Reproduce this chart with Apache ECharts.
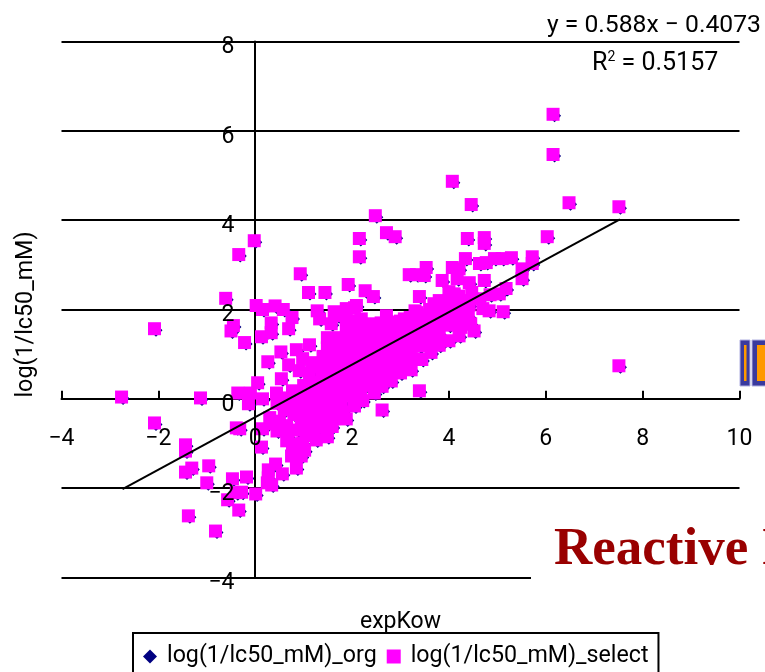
<!DOCTYPE html>
<html><head><meta charset="utf-8">
<style>html,body{margin:0;padding:0;background:#fff;overflow:hidden}#c{width:765px;height:672px}</style>
<script src="https://cdn.jsdelivr.net/npm/echarts@6/dist/echarts.min.js"></script>
</head><body><div id="c"></div>
<script>
const xTicks = {min:-4,max:10,step:2};
const yTicks = {min:-4,max:8,step:2};
const upperOutliers = [[6.15,6.37],[6.15,5.47],[4.07,4.87],[4.46,4.35],[6.48,4.39],[7.51,4.30],[2.48,4.10],[2.15,3.59],[2.71,3.72],[2.89,3.63],[2.15,3.18],[-0.02,3.54],[-0.34,3.23],[0.93,2.80],[-0.61,2.25],[-2.08,1.57],[1.10,2.38],[1.44,2.38],[1.92,2.56],[2.27,2.42],[2.44,2.29],[7.51,0.74],[3.39,0.18],[2.62,-0.25]];
const leftUpper = [[0.02,2.09],[0.15,2.0],[0.41,2.08],[0.58,2.0],[0.76,1.82],[-0.45,1.64],[-0.5,1.52],[0.33,1.7],[0.33,1.48],[0.69,1.57],[1.28,1.97],[1.33,1.79],[-0.22,1.26],[0.13,1.39],[0.26,0.83],[0.53,1.05],[0.85,1.10],[1.12,1.21],[0.54,0.45],[0.69,0.76],[0.05,0.36],[-0.1,0.13],[-0.36,0.13],[-1.13,0.02],[-2.76,0.04],[-0.14,-0.11],[0.15,0],[0.44,0.13],[0.77,0.18],[0.98,0.9],[1.18,0.81],[1.39,0.7],[0.91,0.63],[1.12,0.58],[1.49,1.37],[1.49,1.14],[1.74,1.37],[1.88,1.59],[1.70,1.86],[1.88,2.02],[2.05,2.04],[1.57,1.68],[1.74,1.14],[1.74,1.91],[2.09,2.09],[2.19,1.79],[2.71,1.86],[3.33,1.93],[3.08,1.79],[1.95,1.75],[1.63,1.95]];
const lowerLeft = [[-2.08,-0.54],[-1.44,-1.03],[-1.44,-1.17],[-1.31,-1.55],[-1.44,-1.64],[-0.96,-1.5],[-1.0,-1.88],[-0.47,-1.79],[-0.18,-1.75],[-0.28,-2.09],[-0.39,-2.1],[-0.57,-2.26],[-0.34,-2.49],[0.01,-2.13],[-1.38,-2.62],[-0.82,-2.96],[-0.39,-0.65],[-0.32,-0.67],[0.13,-1.08],[0.42,-1.46],[0.27,-1.59],[0.56,-1.68],[0.25,-1.88],[0.34,-1.93],[0.27,-1.77],[0.85,-1.55],[0.95,-1.28],[0.75,-1.28],[0.77,-1.01],[0.98,-0.99],[0.65,-0.94],[0.15,-0.67],[0.36,-0.56],[0.45,-0.1],[0.6,-0.25],[0.3,-0.42],[0.5,-0.5],[0.65,-0.6],[0.8,-0.35],[0.85,-0.1],[0.7,0.02],[0.45,-0.72],[0.68,-0.85],[0.88,-0.7],[0.95,-0.5],[1.05,-0.3],[1.1,-0.05],[0.95,0.1]];
const massLow = [[1.0,0.3],[1.02,-1.15],[1.05,-0.82],[1.03,-0.62],[1.2,0.72],[1.22,0.35],[1.2,0.12],[1.24,-0.12],[1.18,-0.35],[1.22,-0.58],[1.2,-0.76],[1.26,-0.92],[1.4,0.95],[1.38,0.5],[1.42,0.28],[1.4,0.05],[1.36,-0.2],[1.42,-0.42],[1.4,-0.64],[1.49,-0.85],[1.6,1.2],[1.62,0.92],[1.58,0.68],[1.6,0.45],[1.64,0.22],[1.6,0],[1.58,-0.22],[1.62,-0.45],[1.59,-0.62],[1.8,1.3],[1.82,1.05],[1.78,0.82],[1.8,0.6],[1.84,0.38],[1.8,0.15],[1.78,-0.08],[1.82,-0.3],[1.88,-0.45],[2.0,1.5],[2.02,1.25],[1.98,1.0],[2.0,0.78],[2.04,0.55],[2.0,0.3],[1.98,0.08],[2.05,-0.16],[2.2,1.58],[2.22,1.34],[2.18,1.1],[2.2,0.88],[2.24,0.66],[2.2,0.42],[2.18,0.2],[2.22,-0.04],[2.4,1.68],[2.42,1.44],[2.38,1.2],[2.4,0.98],[2.44,0.75],[2.4,0.5],[2.38,0.3],[2.46,0.13]];
const massHigh = [[2.6,1.7],[2.62,1.46],[2.58,1.22],[2.6,1.0],[2.64,0.78],[2.6,0.55],[2.62,0.28],[2.8,1.72],[2.82,1.48],[2.78,1.25],[2.8,1.02],[2.84,0.8],[2.81,0.4],[2.8,0.6],[3.0,1.74],[3.02,1.5],[2.98,1.26],[3.0,1.05],[3.04,0.82],[3.0,0.58],[3.2,1.82],[3.22,1.58],[3.18,1.34],[3.2,1.12],[3.24,0.9],[3.22,0.65],[3.4,1.88],[3.42,1.64],[3.38,1.4],[3.4,1.18],[3.44,0.88],[3.6,2.0],[3.62,1.75],[3.58,1.5],[3.6,1.25],[3.63,1.04],[3.8,2.2],[3.82,1.95],[3.78,1.7],[3.8,1.45],[3.8,1.2],[4.0,2.4],[4.02,2.15],[3.98,1.9],[4.0,1.65],[4.0,1.3],[4.2,2.3],[4.22,2.05],[4.18,1.8],[4.21,1.41],[4.25,1.6],[4.42,2.1],[4.4,1.85],[4.52,1.52],[4.45,1.68]];
const upperRight = [[4.38,3.59],[4.73,3.61],[4.73,3.48],[6.03,3.63],[5.72,3.18],[5.72,3.03],[5.51,2.91],[5.51,2.69],[5.29,3.16],[5.1,3.14],[4.94,3.14],[4.77,3.05],[4.63,3.03],[4.34,3.14],[4.21,2.91],[4.07,2.94],[3.53,2.94],[3.49,2.76],[3.18,2.78],[3.33,2.78],[3.86,2.65],[3.39,2.29],[3.69,2.13],[3.3,1.97],[4.73,2.65],[4.42,2.6],[4.17,2.69],[4.11,2.35],[4.47,2.38],[4.25,2.2],[4.63,2.24],[5.18,2.47],[5.04,2.35],[4.85,2.33],[4.83,1.97],[5.12,1.95],[4.7,2.02]];
const trendPoints = [[-2.74,-2.02],[7.53,4.02]];
const selectPoints = [].concat(upperOutliers,leftUpper,lowerLeft,massLow,massHigh,upperRight);
const orgPoints = selectPoints;
const FONT='Roboto';
const chart = echarts.init(document.getElementById('c'));
const ln={color:'#000',width:2};
const hiddenLine={show:false,onZero:false};
chart.setOption({
 animation:false,backgroundColor:'#fff',
 grid:{left:61.5,right:25.5,top:41.5,bottom:94.5,containLabel:false,outerBoundsMode:'none'},
 xAxis:[
  {type:'value',min:xTicks.min,max:xTicks.max,interval:xTicks.step,z:1,
   name:'expKow',nameLocation:'middle',nameGap:33,nameTextStyle:{fontFamily:FONT,fontSize:23,color:'#000'},
   axisLine:{show:true,onZero:true,onZeroAxisIndex:0,lineStyle:ln},axisTick:{show:true,inside:true,length:8,lineStyle:ln},axisLabel:{show:false},splitLine:{show:false}},
  {type:'value',min:xTicks.min,max:xTicks.max,interval:xTicks.step,z:20,position:'bottom',offset:-179.5,
   axisLine:hiddenLine,axisTick:{show:false},splitLine:{show:false},
   axisLabel:{show:true,margin:30,fontFamily:FONT,fontSize:23,color:'#000',showMinLabel:true,showMaxLabel:true,formatter:v=>String(v).replace('-','\u2212')}}
 ],
 yAxis:[
  {type:'value',min:yTicks.min,max:yTicks.max,interval:yTicks.step,z:1,
   name:'log(1/lc50_mM)',nameLocation:'middle',nameGap:24,nameRotate:90,nameTextStyle:{fontFamily:FONT,fontSize:23.3,color:'#000',padding:[0,10,0,0]},
   axisLine:{show:true,onZero:true,onZeroAxisIndex:0,lineStyle:ln},axisTick:{show:true,inside:true,length:8,lineStyle:ln},axisLabel:{show:false},splitLine:{show:true,lineStyle:ln}},
  {type:'value',min:yTicks.min,max:yTicks.max,interval:yTicks.step,z:20,position:'left',offset:-194,
   axisLine:hiddenLine,axisTick:{show:false},splitLine:{show:false},
   axisLabel:{show:true,margin:21,fontFamily:FONT,fontSize:23,color:'#000',verticalAlign:'top',lineHeight:12,showMinLabel:true,showMaxLabel:true,formatter:v=>String(v).replace('-','\u2212')}}
 ],
 legend:{show:true,left:133,top:633,orient:'horizontal',data:['log(1/lc50_mM)_org','log(1/lc50_mM)_select'],
  borderColor:'#000',borderWidth:2,backgroundColor:'#fff',padding:[12,10,40,10],itemGap:10,itemWidth:14,itemHeight:14,
  textStyle:{fontFamily:FONT,fontSize:23.2,color:'#000',padding:[0,0,0,5]}},
 series:[
  {name:'log(1/lc50_mM)_org',type:'scatter',data:orgPoints,symbol:'diamond',symbolSize:13,symbolOffset:[1.5,1.5],itemStyle:{color:'#000080',opacity:1},z:3,silent:true},
  {name:'log(1/lc50_mM)_select',type:'scatter',data:selectPoints,symbol:'rect',symbolSize:13,itemStyle:{color:'#ff00ff',opacity:1},z:4,silent:true},
  {name:'trend',type:'line',data:trendPoints,symbol:'none',lineStyle:{color:'#000',width:2},z:6,silent:true}
 ],
 graphic:[
  {type:'rect',z:30,shape:{x:531,y:500,width:234,height:100},style:{fill:'#fff'}},
  {type:'text',z:31,x:554,y:524,style:{text:'Reactive I',fontFamily:'Liberation Serif',fontWeight:'bold',fontSize:53,fill:'#990000'}},
  {type:'rect',z:30,shape:{x:740,y:340,width:10,height:46},style:{fill:'#3a3a9e',stroke:'#b0b0e0',lineWidth:1}},
  {type:'rect',z:31,shape:{x:744,y:345,width:2.5,height:36},style:{fill:'#ff9900'}},
  {type:'rect',z:30,shape:{x:752,y:340,width:20,height:46},style:{fill:'#3a3a9e',stroke:'#b0b0e0',lineWidth:1}},
  {type:'rect',z:31,shape:{x:757,y:345,width:8,height:36},style:{fill:'#ff9900'}},
  {type:'text',z:31,x:547,y:13,style:{text:'y = 0.588x \u2212 0.4073',fontFamily:FONT,fontSize:24.7,fill:'#000'}},
  {type:'text',z:31,x:592,y:50,style:{text:'{a|R}{s|2}{a| = 0.5157}',fontFamily:FONT,rich:{a:{fontFamily:FONT,fontSize:25,fill:'#000'},s:{fontFamily:FONT,fontSize:14,fill:'#000',verticalAlign:'top',padding:[0,0,14,0]}}}}
 ]
});
</script></body></html>
